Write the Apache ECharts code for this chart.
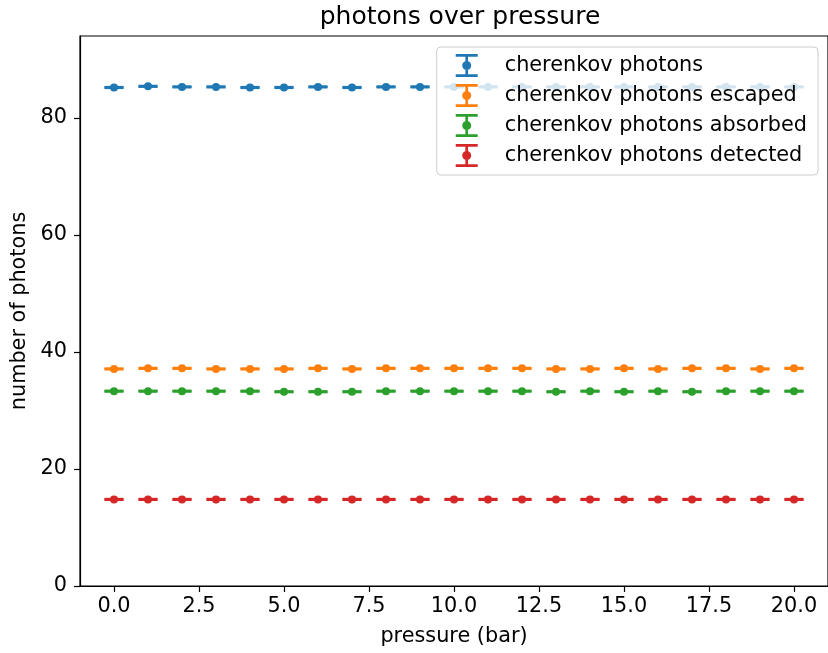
<!DOCTYPE html>
<html>
<head>
<meta charset="utf-8">
<script src="https://cdn.jsdelivr.net/npm/echarts@6/dist/echarts.min.js"></script>
<style>html,body{margin:0;padding:0;background:#fff}#chart{width:828px;height:653px}</style>
</head>
<body>
<div id="chart"></div>
<script>
const pressure = [0,1,2,3,4,5,6,7,8,9,10,11,12,13,14,15,16,17,18,19,20];
const cherenkov = [85.2,85.4,85.3,85.3,85.2,85.2,85.3,85.2,85.3,85.3,85.3,85.3,85.3,85.3,85.3,85.3,85.3,85.3,85.3,85.3,85.3];
const cherenkovErr = [0.05,0.05,0.05,0.05,0.05,0.05,0.05,0.05,0.05,0.05,0.05,0.05,0.05,0.05,0.05,0.05,0.05,0.05,0.05,0.05,0.05];
const escaped = [37.1,37.2,37.2,37.1,37.1,37.1,37.2,37.1,37.2,37.2,37.2,37.2,37.2,37.1,37.1,37.2,37.1,37.2,37.2,37.1,37.2];
const escapedErr = [0.05,0.05,0.05,0.05,0.05,0.05,0.05,0.05,0.05,0.05,0.05,0.05,0.05,0.05,0.05,0.05,0.05,0.05,0.05,0.05,0.05];
const absorbed = [33.3,33.3,33.3,33.3,33.3,33.2,33.2,33.2,33.3,33.3,33.3,33.3,33.3,33.2,33.3,33.2,33.3,33.2,33.3,33.3,33.3];
const absorbedErr = [0.05,0.05,0.05,0.05,0.05,0.05,0.05,0.05,0.05,0.05,0.05,0.05,0.05,0.05,0.05,0.05,0.05,0.05,0.05,0.05,0.05];
const detected = [14.8,14.8,14.8,14.8,14.8,14.8,14.8,14.8,14.8,14.8,14.8,14.8,14.8,14.8,14.8,14.8,14.8,14.8,14.8,14.8,14.8];
const detectedErr = [0.05,0.05,0.05,0.05,0.05,0.05,0.05,0.05,0.05,0.05,0.05,0.05,0.05,0.05,0.05,0.05,0.05,0.05,0.05,0.05,0.05];
const seriesNames = ['cherenkov photons','cherenkov photons escaped','cherenkov photons absorbed','cherenkov photons detected'];
const colors = ['#1f77b4','#ff7f0e','#2ca02c','#d62728'];
const xTicks = [0,2.5,5,7.5,10,12.5,15,17.5,20];
const yTicks = [0,20,40,60,80];

const FONT = 'DejaVu Sans';
const FS = 20.8;
const legendIcon = 'path://M0,0H22V2.7H0Z M9.65,2.7H12.35V7.3H9.65Z M15.5,11.5A4.5,4.5 0 1,1 6.5,11.5A4.5,4.5 0 1,1 15.5,11.5Z M9.65,15.7H12.35V20.3H9.65Z M0,20.3H22V23H0Z';

function buildData(vals, errs) {
  return pressure.map((p, i) => [p, vals[i], errs[i]]);
}

function renderErrorbar(params, api) {
  const x = api.value(0), y = api.value(1), e = api.value(2);
  const c = api.coord([x, y]);
  const top = api.coord([x, y + e]);
  const bot = api.coord([x, y - e]);
  const color = api.visual('color');
  const hw = 9.5, lw = 2.6;
  return {
    type: 'group',
    children: [
      {type: 'line', shape: {x1: c[0], y1: top[1], x2: c[0], y2: bot[1]}, style: {stroke: color, lineWidth: lw}},
      {type: 'line', shape: {x1: c[0] - hw, y1: top[1], x2: c[0] + hw, y2: top[1]}, style: {stroke: color, lineWidth: lw}},
      {type: 'line', shape: {x1: c[0] - hw, y1: bot[1], x2: c[0] + hw, y2: bot[1]}, style: {stroke: color, lineWidth: lw}},
      {type: 'circle', shape: {cx: c[0], cy: c[1], r: 4}, style: {fill: color}}
    ]
  };
}

const allVals = [cherenkov, escaped, absorbed, detected];
const allErrs = [cherenkovErr, escapedErr, absorbedErr, detectedErr];

const chart = echarts.init(document.getElementById('chart'), null, {renderer: 'canvas'});
chart.setOption({
  animation: false,
  color: colors,
  title: {
    text: 'photons over pressure',
    left: 455, top: 0, textAlign: 'center',
    textStyle: {fontFamily: FONT, fontSize: 25, fontWeight: 'normal', color: '#000'}
  },
  grid: {left: 80, top: 36, width: 748, height: 550, show: true, borderColor: '#000', borderWidth: 1.2, backgroundColor: 'transparent'},
  legend: {
    orient: 'vertical', right: 10, top: 47,
    data: seriesNames.map(n => ({name: n, icon: legendIcon})),
    itemWidth: 22, itemHeight: 23, itemGap: 7,
    padding: [7, 11, 8, 19],
    backgroundColor: 'rgba(255,255,255,0.8)',
    borderColor: '#cccccc', borderWidth: 1, borderRadius: 4,
    textStyle: {fontFamily: FONT, fontSize: FS, color: '#000', padding: [0, 0, 0, 22]}
  },
  xAxis: {
    type: 'value', min: -1, max: 21,
    name: 'pressure (bar)', nameLocation: 'middle', nameGap: 40,
    nameTextStyle: {fontFamily: FONT, fontSize: FS, color: '#000'},
    splitLine: {show: false},
    axisLine: {onZero: false, lineStyle: {color: '#000', width: 1.2}},
    axisTick: {show: true, length: 6, lineStyle: {color: '#000', width: 1.2}, customValues: xTicks},
    axisLabel: {fontFamily: FONT, fontSize: FS, color: '#000', margin: 10, customValues: xTicks, formatter: v => Number(v).toFixed(1)}
  },
  yAxis: {
    type: 'value', min: 0, max: 94,
    name: 'number of photons', nameLocation: 'middle', nameGap: 48, nameRotate: 90,
    nameTextStyle: {fontFamily: FONT, fontSize: FS, color: '#000'},
    splitLine: {show: false},
    axisLine: {onZero: false, lineStyle: {color: '#000', width: 1.2}},
    axisTick: {show: true, length: 6, lineStyle: {color: '#000', width: 1.2}, customValues: yTicks},
    axisLabel: {fontFamily: FONT, fontSize: FS, color: '#000', margin: 13, customValues: yTicks, formatter: v => String(v)}
  },
  series: seriesNames.map((n, k) => ({
    name: n, type: 'custom', renderItem: renderErrorbar,
    encode: {x: 0, y: 1},
    itemStyle: {color: colors[k]},
    data: buildData(allVals[k], allErrs[k]),
    clip: false
  }))
});
</script>
</body>
</html>
